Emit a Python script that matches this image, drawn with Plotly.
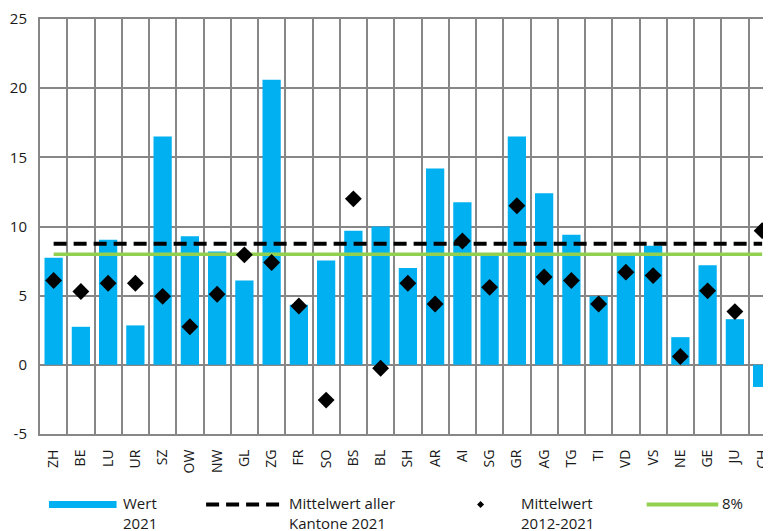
import plotly.graph_objects as go

cantons = ["ZH", "BE", "LU", "UR", "SZ", "OW", "NW", "GL", "ZG", "FR", "SO", "BS", "BL", "SH",
           "AR", "AI", "SG", "GR", "AG", "TG", "TI", "VD", "VS", "NE", "GE", "JU", "CH"]
wert_2021 = [7.75, 2.75, 9.05, 2.85, 16.5, 9.3, 8.2, 6.1, 20.6, 4.35, 7.55, 9.7, 10.0, 7.0,
             14.2, 11.75, 7.9, 16.5, 12.4, 9.4, 4.95, 7.9, 8.6, 2.0, 7.2, 3.3, -1.6]
mittel_2012_2021 = [6.1, 5.3, 5.9, 5.9, 4.95, 2.75, 5.1, 7.95, 7.4, 4.25, -2.55, 12.0, -0.25, 5.9,
                    4.4, 8.95, 5.6, 11.5, 6.35, 6.1, 4.4, 6.7, 6.45, 0.6, 5.35, 3.85, 9.7]
mittel_kantone_2021 = 8.75
ziel = 8.0
y_ticks = [-5, 0, 5, 10, 15, 20, 25]
y_labels = ["-5", "0", "5", "10", "15", "20", "25"]

BLUE = "#00B0F0"
GREEN = "#92D050"
GRID = "#878787"
FONT = "Open Sans, Arial, sans-serif"

# page body has an 8px default margin: figure origin sits at (8, 8) in the window
OFF = 8
W, H = 771 - OFF, 531 - OFF
ML, MR, MT = 40 - OFF, 0, 16 - OFF
PH = 418
MB = H - MT - PH
PW = W - ML - MR
COL = 27.4

fig = go.Figure()
fig.add_trace(go.Bar(x=cantons, y=wert_2021, marker=dict(color=BLUE, line=dict(width=0)),
                     width=0.67, name="Wert 2021", showlegend=False))
fig.add_trace(go.Scatter(x=cantons, y=[mittel_kantone_2021] * len(cantons), mode="lines",
                         line=dict(color="black", width=4, dash="13px,7px"),
                         name="Mittelwert aller Kantone 2021", showlegend=False))
fig.add_trace(go.Scatter(x=cantons, y=[ziel] * len(cantons), mode="lines",
                         line=dict(color=GREEN, width=3.5), name="8%", showlegend=False))
fig.add_trace(go.Scatter(x=cantons, y=mittel_2012_2021, mode="markers",
                         marker=dict(symbol="diamond", size=13, color="black"),
                         name="Mittelwert 2012-2021", showlegend=False))


def px_x(p):
    # window pixel -> paper x
    return (p - OFF - ML) / PW


def px_y(p):
    # window pixel -> paper y
    return (OFF + MT + PH - p) / PH


shapes = []
ly = 505
shapes.append(dict(type="line", xref="paper", yref="paper", x0=px_x(49), x1=px_x(117),
                   y0=px_y(ly), y1=px_y(ly), line=dict(color=BLUE, width=7)))
shapes.append(dict(type="line", xref="paper", yref="paper", x0=px_x(207), x1=px_x(287),
                   y0=px_y(ly), y1=px_y(ly), line=dict(color="black", width=4, dash="13px,7px")))
d = 3.5
shapes.append(dict(type="path", xref="paper", yref="paper",
                   path=f"M {px_x(483 - d)} {px_y(ly)} L {px_x(483)} {px_y(ly - d)} "
                        f"L {px_x(483 + d)} {px_y(ly)} L {px_x(483)} {px_y(ly + d)} Z",
                   fillcolor="black", line=dict(width=0)))
shapes.append(dict(type="line", xref="paper", yref="paper", x0=px_x(650), x1=px_x(722),
                   y0=px_y(ly), y1=px_y(ly), line=dict(color=GREEN, width=4)))

annotations = []
for tx, txt in [(122, "Wert<br>2021"), (289, "Mittelwert aller<br>Kantone 2021"),
                (523, "Mittelwert<br>2012-2021"), (725, "8%")]:
    annotations.append(dict(xref="paper", yref="paper", x=px_x(tx), y=px_y(492),
                            xanchor="left", yanchor="top", align="left", showarrow=False,
                            borderpad=0, text=txt,
                            font=dict(family=FONT, size=15, color="#1a1a1a")))

fig.update_layout(
    width=W, height=H,
    margin=dict(l=ML, r=MR, t=MT, b=MB, pad=0),
    paper_bgcolor="white", plot_bgcolor="white",
    font=dict(family=FONT, color="#1a1a1a"),
    shapes=shapes,
    annotations=annotations,
    showlegend=False,
    xaxis=dict(type="category", range=[-0.5, -0.5 + PW / COL], tickson="boundaries",
               showgrid=True, gridcolor=GRID, gridwidth=2,
               showline=True, linecolor=GRID, linewidth=2, mirror=True,
               ticks="", tickangle=-90, tickfont=dict(size=14, family=FONT),
               ticklabelstandoff=8, ticklabeloverflow="allow", fixedrange=True),
    yaxis=dict(range=[-5, 25], tickmode="array", tickvals=y_ticks, ticktext=y_labels,
               showgrid=True, gridcolor=GRID, gridwidth=2,
               zeroline=True, zerolinecolor=GRID, zerolinewidth=2,
               showline=True, linecolor=GRID, linewidth=2,
               ticks="", tickfont=dict(size=15, family=FONT), ticklabelstandoff=8,
               ticklabeloverflow="allow"),
)

fig.write_html("out.html")
